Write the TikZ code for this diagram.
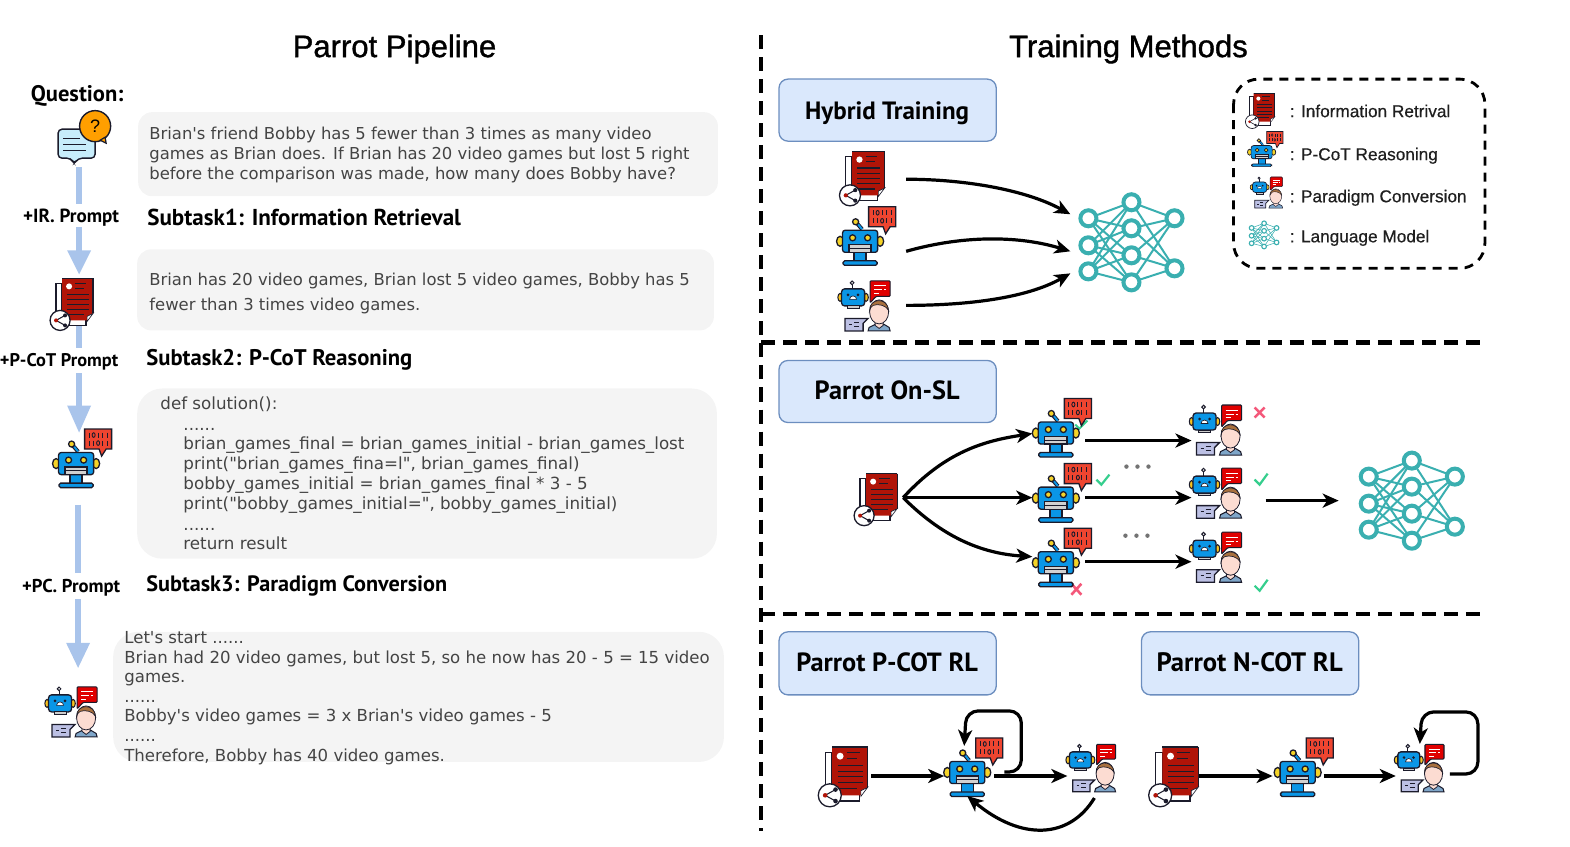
\documentclass[tikz,border=0pt]{standalone}
\usepackage{fontspec}
\setmainfont{Liberation Sans}
\newfontfamily\titlef[FakeBold=1.2]{Liberation Sans}
\newfontfamily\legf[FakeBold=0.5]{Liberation Sans}
\newfontfamily\bodyf{DejaVu Sans}
\newfontfamily\handf{PT Sans}
\usetikzlibrary{arrows.meta}
\definecolor{gbox}{HTML}{F4F4F4}
\definecolor{pipe}{HTML}{A9C4EB}
\definecolor{bbfill}{HTML}{DAE8FC}
\definecolor{bbline}{HTML}{6C8EBF}
\definecolor{teal1}{HTML}{3AAFB0}
\definecolor{ink}{HTML}{1B1B2B}
\definecolor{docred}{HTML}{B01408}
\definecolor{botblue}{HTML}{0A96E6}
\definecolor{boty}{HTML}{F5D327}
\definecolor{bubred}{HTML}{EE4530}
\definecolor{okg}{HTML}{35CE8D}
\definecolor{nor}{HTML}{F4587A}
\definecolor{bodyc}{HTML}{444444}
\definecolor{skin}{HTML}{FCDCD2}
\definecolor{hair}{HTML}{A8703E}
\definecolor{shirt}{HTML}{7FA6C9}
\definecolor{gbub}{HTML}{BCC0E4}
\def\icw{1.3pt}
\newcommand{\nnlw}{4pt}
\tikzset{
 x=1pt,y=-1pt,
 graybox/.style={fill=gbox,draw=none},
 bluebox/.style={fill=bbfill,draw=bbline,line width=1.3pt,rounded corners=9pt},
 pipeline/.style={draw=pipe,line width=6pt},
 pipehead/.style={fill=pipe,draw=none},
 conn/.style={draw=black,line width=3.2pt,-{Stealth[length=16pt,width=14pt,inset=4.5pt]}},
 dashline/.style={draw=black,line width=4.4pt,dash pattern=on 14pt off 8pt},
 bodyt/.style={anchor=base west,inner sep=0pt,text=bodyc,font=\bodyf\fontsize{16.4}{18}\selectfont},
 bodyc/.style={anchor=base west,inner sep=0pt,text=bodyc,font=\bodyf\fontsize{16.7}{18}\selectfont},
 bodyd/.style={anchor=base west,inner sep=0pt,text=bodyc,font=\bodyf\fontsize{16.55}{18}\selectfont},
 handt/.style={anchor=base west,inner sep=0pt,text=black,font=\handf\bfseries\fontsize{#1}{26}\selectfont},
 promptt/.style={anchor=base,inner sep=0pt,text=black,font=\handf\bfseries\fontsize{#1}{22}\selectfont},
 titlet/.style={anchor=base,inner sep=0pt,font=\titlef\fontsize{31}{34}\selectfont},
 boxt/.style={anchor=base,inner sep=0pt,font=\handf\bfseries\fontsize{#1}{28}\selectfont},
 legt/.style={anchor=base west,inner sep=0pt,text=black!88,font=\legf\fontsize{17.2}{19}\selectfont},
 okmark/.style={draw=okg,line width=1.9pt},
 nomark/.style={draw=nor,line width=2.6pt},
 dotmark/.style={fill=black!55,draw=none},
 docicon/.pic={
  \draw[ink,line width=\icw,fill=white] (-6,5)--(-6,47)--(24,47)--(24,38)--(0,38)--(0,5)--cycle;
  \fill[docred] (0,0)--(31,0)--(31,35)--(25,38)--(25,42)--(0,42)--cycle;
  \draw[ink,line width=\icw] (31,0)--(31,35) (0,0)--(31,0);
  \fill[white,draw=ink,line width=.5*\icw] (25,38)--(31,35)--(25,43)--cycle;
  \fill[white] (7,8) circle (3);
  \draw[ink,line width=.9*\icw] (13,5)--(24,5) (13,10)--(22,10)
     (5,16)--(27,16) (5,21)--(27,21) (5,26)--(27,26) (5,31)--(27,31) (5,36)--(22,36);
  \draw[ink,line width=\icw,fill=white] (-2,42) circle (10);
  \draw[ink,line width=.8*\icw] (3,37)--(-6,42)--(3,47);
  \fill[docred] (-6,42) circle (2);
  \fill[ink] (3,37) circle (2) (3,47) circle (2);
 },
 roboticon/.pic={
  \fill[bubred,draw=ink,line width=\icw] (8.5,-34.5)--(35.5,-34.5)--(35.5,-14.5)--(30,-14.5)--(25.5,-7.5)--(23,-14.5)--(8.5,-14.5)--cycle;
  \draw[ink,line width=.7*\icw] (13,-31)--(13,-26) (22,-31)--(22,-26) (26,-31)--(26,-26) (31,-31)--(31,-26)
     (13,-23)--(13,-18) (17,-23)--(17,-18) (26,-23)--(26,-18) (31,-23)--(31,-18);
  \draw[ink,line width=.7*\icw] (17.5,-28.5) circle (1.5 and 2.3) (22,-20.5) circle (1.5 and 2.3);
  \draw[ink,line width=3*\icw] (-4,-19)--(2,-12);
  \draw[botblue,line width=1.5*\icw] (-2,-17)--(2,-12);
  \fill[boty,draw=ink,line width=\icw] (-4.5,-19.5) circle (3);
  \fill[boty,draw=ink,line width=\icw] (-20,0) ellipse (3.5 and 5) (20,0) ellipse (3.5 and 5);
  \fill[botblue,draw=ink,line width=\icw] (-6,10) rectangle (6,21);
  \fill[botblue,draw=ink,line width=\icw,rounded corners=2.5] (-17.5,-11) rectangle (17.5,11);
  \fill[boty,draw=ink,line width=\icw] (-7.5,-3.5) circle (3) (7.5,-3.5) circle (3);
  \fill[black!18,draw=ink,line width=\icw] (-11,3.5) rectangle (11,11);
  \draw[ink,line width=.8*\icw] (-11,7)--(11,7);
  \fill[botblue,draw=ink,line width=\icw,rounded corners=1.5] (-17,19.5) rectangle (17,24);
 },
 personicon/.pic={
  \fill[red!88!black,draw=ink,line width=.8*\icw,rounded corners=1] (17,-16.5)--(37,-16.5)--(37,-1)--(23,-1)--(17,5.5)--cycle;
  \draw[white,line width=.8*\icw] (21,-11.5)--(33,-11.5) (21,-7.5)--(29,-7.5) (31,-7.5)--(33,-7.5) (21,-4)--(26,-4);
  \draw[ink,line width=.8*\icw] (-1,-8.5)--(-1,-13);
  \draw[ink,line width=.8*\icw,fill=white] (-1,-14.5) circle (1.8);
  \fill[boty!80!orange,draw=ink,line width=.8*\icw] (-13,0) ellipse (2.2 and 4) (13,0) ellipse (2.2 and 4);
  \fill[botblue,draw=ink,line width=\icw,rounded corners=3] (-11.5,-8.5) rectangle (11.5,8.5);
  \fill[ink] (-5,-2.5) circle (1.5) (5,-2.5) circle (1.5);
  \fill[white,draw=ink,line width=.5*\icw] (-3.5,2)--(3.5,2) arc (0:-180:3.5)--cycle;
  \draw[ink,line width=.8*\icw,fill=black!20] (-6,8.5) rectangle (6,11);
  \fill[shirt,draw=ink,line width=.8*\icw] (15,33.5)--(16,30)--(22,27)--(31,27)--(36,30)--(37,33.5)--cycle;
  \fill[skin,draw=ink,line width=.6*\icw] (22,20)--(22,28)--(26,31)--(30,28)--(30,20)--cycle;
  \fill[skin,draw=ink,line width=.6*\icw] (26,14.5) ellipse (9.5 and 12);
  \fill[hair,draw=ink,line width=.5*\icw] (16.5,13)..controls (16,1) and (34,-1) ..(35.5,13)..controls (33,8) and (25,6) ..(20,8)..controls (18,9) and (17,11) ..cycle;
  \fill[gbub,draw=ink,line width=\icw] (-8,21)--(15,21)--(10,26)--(10,33.5)--(-8,33.5)--cycle;
  \draw[ink,line width=.8*\icw] (-4,27)--(-1,27) (1,25)--(6,25) (1,29)--(6,29);
 },
 nnicon/.pic={
  \foreach \ay in {16,43,69}{\foreach \by in {0,26,53,80}{\draw[teal1,line width=.5*\nnlw] (0,\ay)--(43,\by);}}
  \foreach \by in {0,26,53,80}{\foreach \cy in {16,66}{\draw[teal1,line width=.5*\nnlw] (43,\by)--(86,\cy);}}
  \foreach \p in {(0,16),(0,43),(0,69),(43,0),(43,26),(43,53),(43,80),(86,16),(86,66)}{\draw[teal1,line width=\nnlw,fill=white] \p circle (8);}
 }
}
\begin{document}
\begin{tikzpicture}
\useasboundingbox (0,0) rectangle (1568,845);
% titles
\node[titlet] (t1) at (394,57) {Parrot Pipeline};
\node[titlet] (t2) at (1127,57) {Training Methods};
% gray boxes
\draw[graybox,rounded corners=14pt] (138,112) rectangle (717,196);
\draw[graybox,rounded corners=14pt] (137,249) rectangle (713,330);
\draw[graybox,rounded corners=25pt] (137,388) rectangle (716,558);
\draw[graybox,rounded corners=25pt] (113,631) rectangle (723,761);
% body
\node[bodyt] (b1a) at (149,139) {Brian's friend Bobby has 5 fewer than 3 times as many video};
\node[bodyt] (b1b) at (149,159) {games as Brian does. If Brian has 20 video games but lost 5 right};
\node[bodyt] (b1c) at (149,179) {before the comparison was made, how many does Bobby have?};
\node[bodyt] (b2a) at (149,285) {Brian has 20 video games, Brian lost 5 video games, Bobby has 5};
\node[bodyt] (b2b) at (149,310) {fewer than 3 times video games.};
\node[bodyc] (b3a) at (160,409) {def solution():};
\node[bodyc] (b3b) at (183,430) {......};
\node[bodyc] (b3c) at (183,449) {brian\_games\_final = brian\_games\_initial - brian\_games\_lost};
\node[bodyc] (b3d) at (183,469) {print("brian\_games\_fina=l", brian\_games\_final)};
\node[bodyc] (b3e) at (183,489) {bobby\_games\_initial = brian\_games\_final * 3 - 5};
\node[bodyc] (b3f) at (183,509) {print("bobby\_games\_initial=", bobby\_games\_initial)};
\node[bodyc] (b3g) at (183,530) {......};
\node[bodyc] (b3h) at (183,549) {return result};
\node[bodyd] (b4a) at (124,643) {Let's start ......};
\node[bodyd] (b4b) at (124,663) {Brian had 20 video games, but lost 5, so he now has 20 - 5 = 15 video};
\node[bodyd] (b4c) at (124,682) {games.};
\node[bodyd] (b4d) at (124,702) {......};
\node[bodyd] (b4e) at (124,721) {Bobby's video games = 3 x Brian's video games - 5};
\node[bodyd] (b4f) at (124,741) {......};
\node[bodyd] (b4g) at (124,761) {Therefore, Bobby has 40 video games.};
% hand labels
\node[handt=22.5,anchor=base] (q) at (77,101) {Question:};
\node[handt=23] (s1) at (147,225) {Subtask1: Information Retrieval};
\node[handt=22.6] (s2) at (146,365) {Subtask2: P-CoT Reasoning};
\node[handt=22.2] (s3) at (146,591) {Subtask3: Paradigm Conversion};
\node[promptt=19] (p1) at (71,222) {+IR. Prompt};
\node[promptt=18.3] (p2) at (59,366) {+P-CoT Prompt};
\node[promptt=18.6] (p3) at (71,592) {+PC. Prompt};
% pipeline
\coordinate (l1a) at (79,167); \coordinate (l1b) at (79,204);
\coordinate (l2a) at (79,227); \coordinate (l2b) at (79,252);
\coordinate (l3a) at (79,325); \coordinate (l3b) at (79,348);
\coordinate (l4a) at (79,373); \coordinate (l4b) at (79,407);
\coordinate (l5a) at (78,504); \coordinate (l5b) at (78,572);
\coordinate (l6a) at (78,598); \coordinate (l6b) at (78,644);
\draw[pipeline] (l1a)--(l1b);
\draw[pipeline] (l2a)--(l2b);
\draw[pipeline] (l3a)--(l3b);
\draw[pipeline] (l4a)--(l4b);
\draw[pipeline] (l5a)--(l5b);
\draw[pipeline] (l6a)--(l6b);
\fill[pipehead] (67,250)--(91,250)--(79,274)--cycle;
\fill[pipehead] (67,405)--(91,405)--(79,432)--cycle;
\fill[pipehead] (66,642)--(90,642)--(78,667)--cycle;
% question icon
\fill[cyan!22!white,draw=ink,line width=1.4pt,rounded corners=4] (58,129)--(95,129)--(95,158)--(78,158)--(74,164)--(71,158)--(58,158)--cycle;
\draw[ink,line width=1.2pt] (63,138)--(80,138) (63,144)--(86,144) (63,150)--(86,150);
\fill[orange!75!yellow,draw=ink,line width=1.4pt] (95,126) circle (15.5);
\fill[orange!75!yellow,draw=ink,line width=1.2pt] (100,140)--(106,143)--(105,137)--cycle;
\node[inner sep=0pt,font=\fontsize{18}{20}\selectfont] (qm) at (95,126) {?};
% icons left
\pic at (62,278) {docicon};
\pic at (76,463) {roboticon};
\pic at (60,702.5) {personicon};
% dashed separators
\coordinate (v1) at (760,35); \coordinate (v2) at (760,830);
\coordinate (h1a) at (760,342); \coordinate (h1b) at (1483,342);
\coordinate (h2a) at (760,613); \coordinate (h2b) at (1483,613);
\draw[dashline] (v1)--(v2);
\draw[dashline] (h1a)--(h1b);
\draw[dashline] (h2a)--(h2b);
% blue boxes
\draw[bluebox] (778,79) rectangle (995,141);
\draw[bluebox] (778,360) rectangle (995,422);
\draw[bluebox] (778,631) rectangle (995,694);
\draw[bluebox] (1140,631) rectangle (1357,694);
\node[boxt=25] (bx1) at (886,119) {Hybrid Training};
\node[boxt=26.3] (bx2) at (886,399) {Parrot On-SL};
\node[boxt=26.3] (bx3) at (886,671) {Parrot P-COT RL};
\node[boxt=26.6] (bx4) at (1248,671) {Parrot N-COT RL};
% legend
\draw[draw=black,line width=2.8pt,dash pattern=on 9pt off 7pt,rounded corners=25pt] (1232,79) rectangle (1483,268);
\begin{scope}
\def\icw{.7pt}
\renewcommand{\nnlw}{1.1pt}
\pic[scale=.68] at (1252,93) {docicon};
\pic[scale=.6] at (1260,152) {roboticon};
\pic[scale=.62] at (1258,187) {personicon};
\pic[scale=.29] at (1250,223) {nnicon};
\end{scope}
\node[legt] (g1) at (1288,117) {: Information Retrival};
\node[legt] (g2) at (1288,160) {: P-CoT Reasoning};
\node[legt] (g3) at (1288,202) {: Paradigm Conversion};
\node[legt] (g4) at (1288,242) {: Language Model};
% Hybrid
\pic[scale=1.05] at (851,151) {docicon};
\pic at (859,241) {roboticon};
\pic at (852,297) {personicon};
\pic at (1087,202) {nnicon};
\coordinate (ha1) at (905,179); \coordinate (ha2) at (905,251); \coordinate (ha3) at (905,305);
\coordinate (hb1) at (1069,214); \coordinate (hb2) at (1069,251); \coordinate (hb3) at (1069,273);
\draw[conn] (ha1) .. controls (965,179) and (1025,190) .. (hb1);
\draw[conn] (ha2) .. controls (965,234) and (1020,236) .. (hb2);
\draw[conn] (ha3) .. controls (965,305) and (1025,298) .. (hb3);
% On-SL marks
\draw[okmark] (1074,424)--(1078,428)--(1086,420);
\draw[okmark,line width=2.2pt] (1095,479)--(1100,484)--(1108,474);
\draw[okmark,line width=2.2pt] (1253,479)--(1258,484)--(1266,473);
\draw[okmark,line width=2.2pt] (1253,585)--(1258,590)--(1266,579);
\draw[nomark] (1253,407)--(1263,417) (1263,407)--(1253,417);
\draw[nomark] (1070,583)--(1080,594) (1080,583)--(1070,594);
\pic at (865,473) {docicon};
\pic at (1054.5,432.5) {roboticon};
\pic at (1054.5,497.5) {roboticon};
\pic at (1054.5,562) {roboticon};
\pic at (1203,421) {personicon};
\pic at (1203,484) {personicon};
\pic at (1203,548) {personicon};
\pic at (1367,460) {nnicon};
\coordinate (os) at (902,497);
\coordinate (o1) at (1031,433); \coordinate (o2) at (1031,497); \coordinate (o3) at (1031,556);
\draw[conn] (os) .. controls (945,450) and (985,440) .. (o1);
\draw[conn] (os)--(o2);
\draw[conn] (os) .. controls (945,540) and (985,553) .. (o3);
\coordinate (r1) at (1084,440); \coordinate (r2) at (1084,497); \coordinate (r3) at (1084,561);
\coordinate (e1) at (1190,440); \coordinate (e2) at (1190,497); \coordinate (e3) at (1190,561);
\draw[conn] (r1)--(e1);
\draw[conn] (r2)--(e2);
\draw[conn] (r3)--(e3);
\coordinate (f1) at (1264,500); \coordinate (f2) at (1337,500);
\draw[conn] (f1)--(f2);
\fill[dotmark] (1125,466) circle (2.2) (1136,466) circle (2.2) (1147,466) circle (2.2);
\fill[dotmark] (1124,535) circle (2.2) (1135,535) circle (2.2) (1146,535) circle (2.2);
% P-COT RL
\pic[scale=1.15] at (831,746) {docicon};
\pic at (966,771.5) {roboticon};
\pic[scale=.95] at (1079,759) {personicon};
\coordinate (p1a) at (870,775); \coordinate (p1b) at (943,775);
\coordinate (p2a) at (993,775); \coordinate (p2b) at (1066,775);
\coordinate (p3a) at (1003,771); \coordinate (p3b) at (963,745);
\coordinate (p4a) at (1093,797); \coordinate (p4b) at (966,795);
\draw[conn] (p1a)--(p1b);
\draw[conn] (p2a)--(p2b);
\draw[conn,rounded corners=12pt] (p3a)--(1020,771)--(1020,710)--(965,710)--(p3b);
\draw[conn] (p4a) .. controls (1068,838) and (1020,840) .. (p4b);
% N-COT RL
\pic[scale=1.15] at (1161,746) {docicon};
\pic at (1296,771.5) {roboticon};
\pic[scale=.95] at (1407,759) {personicon};
\coordinate (n1a) at (1197,775); \coordinate (n1b) at (1271,775);
\coordinate (n2a) at (1322,775); \coordinate (n2b) at (1394,775);
\coordinate (n3a) at (1448,773); \coordinate (n3b) at (1418,743);
\draw[conn] (n1a)--(n1b);
\draw[conn] (n2a)--(n2b);
\draw[conn,rounded corners=12pt] (n3a)--(1476,773)--(1476,711)--(1420,711)--(n3b);
\end{tikzpicture}
\end{document}
